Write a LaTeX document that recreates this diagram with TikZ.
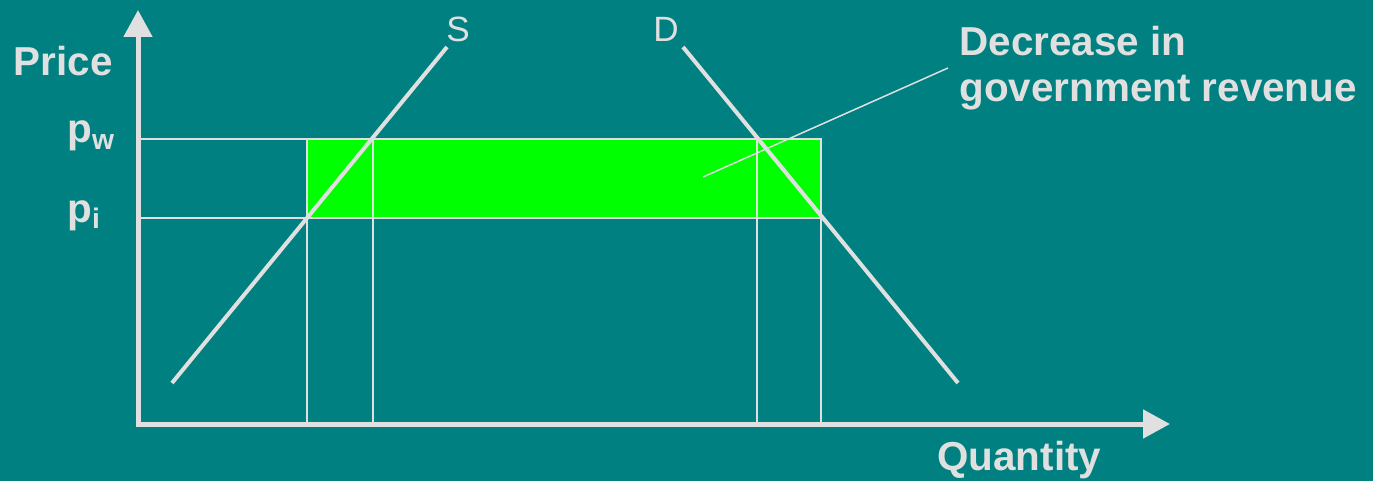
\documentclass[tikz,border=0pt]{standalone}
\usepackage{fontspec}
\setmainfont{Liberation Sans}
\usetikzlibrary{arrows.meta}
\definecolor{bgteal}{HTML}{008080}
\definecolor{linegray}{HTML}{E0E0E0}
\definecolor{areagreen}{HTML}{00FF00}
\tikzset{
  axis/.style={line width=0.1cm, linegray, -{Triangle[length=0.54cm, width=0.56cm]}},
  curve/.style={line width=0.08cm, linegray},
  guide/.style={line width=0.03cm, linegray},
  biglabel/.style={inner sep=0pt, text=linegray, font=\fontsize{23}{26}\selectfont\bfseries},
  curvelabel/.style={inner sep=0pt, text=linegray, font=\fontsize{20}{24}\selectfont}
}
\begin{document}
\begin{tikzpicture}[x=0.02cm, y=0.02cm]
  % 1. 背景
  \fill[bgteal] (0,0) rectangle (1373,481);
  \useasboundingbox (0,0) rectangle (1373,481);

  % 2. 收入减少区域
  \filldraw[fill=areagreen, draw=linegray, line width=0.03cm] (307,263) rectangle (821,342);

  % 3. 辅助细线
  \draw[guide] (138,342) -- (821,342);
  \draw[guide] (138,263) -- (821,263);
  \foreach \q in {307,373,757,821}
    \draw[guide] (\q,342) -- (\q,57);

  % 4. 供给与需求曲线
  \draw[curve] (172,98) -- (447,434);
  \draw[curve] (683,434) -- (958,98);
  \node[curvelabel, anchor=base] (slab) at (458,439) {S};
  \node[curvelabel, anchor=base] (dlab) at (666,439) {D};

  % 5. 坐标轴
  \coordinate (O) at (138,57);
  \draw[axis] (138,54.5) -- (138,471);
  \draw[axis] (135.5,57) -- (1170,57);
  \node[biglabel, anchor=base east] (price) at (113,405) {Price};
  \node[biglabel, anchor=base west] (qty) at (937,11) {Quantity};
  \node[biglabel, anchor=base west] (pw) at (67,338) {p\textsubscript{w}};
  \node[biglabel, anchor=base west] (pi) at (67,259) {p\textsubscript{i}};

  % 6. 标注
  \node[biglabel, anchor=north west, align=left] (rev) at (959,455)
    {Decrease in\\government revenue};
  \coordinate (revpt) at (703,304);
  \coordinate (revend) at (948,413);
  \draw[guide] (revpt) -- (revend);
\end{tikzpicture}
\end{document}
